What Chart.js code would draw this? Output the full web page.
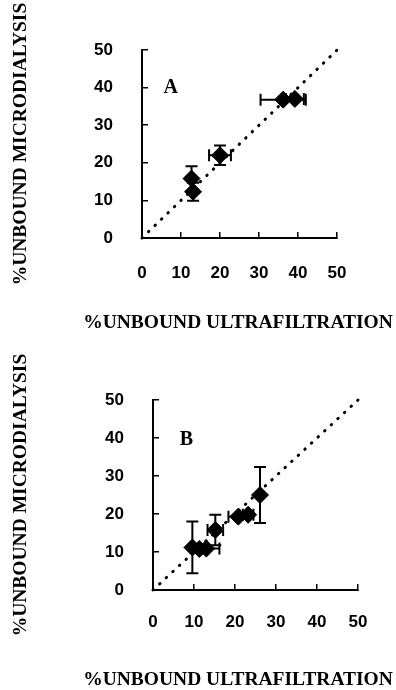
<!DOCTYPE html>
<html>
<head>
<meta charset="utf-8">
<script src="https://cdn.jsdelivr.net/npm/chart.js@4.4.1/dist/chart.umd.min.js"></script>
<style>
    html, body { margin: 0; padding: 0; background: #fff; }
    .panel { position: relative; width: 396px; height: 345px; }
    canvas { display: block; }
</style>
</head>
<body>
<div class="panel"><canvas id="chartA" width="396" height="345"></canvas></div>
<div class="panel"><canvas id="chartB" width="396" height="345"></canvas></div>
<script>
// Panel A: % unbound by ultrafiltration (x) vs microdialysis (y)
const ufA = [12.7, 13.1, 20.0, 36.2, 39.2];
const mdA = [15.8, 12.3, 22.0, 36.8, 37.0];
const ufErrA = [0, 0, 2.8, 5.8, 2.3];
const mdErrA = [3.3, 2.4, 2.6, 0, 0];

// Panel B
const ufB = [9.6, 11.3, 13.0, 15.2, 20.8, 23.2, 26.1];
const mdB = [11.2, 10.8, 10.9, 15.8, 19.3, 19.8, 25.0];
const ufErrB = [0, 0, 3.2, 1.9, 2.4, 1.3, 0];
const mdErrB = [6.8, 0, 0, 4.0, 0, 0, 7.4];

// Line of identity
const identityX = [0, 50];
const identityY = [0, 50];

const tickValues = [0, 10, 20, 30, 40, 50];
const xTitle = '%UNBOUND ULTRAFILTRATION';
const yTitle = '%UNBOUND MICRODIALYSIS';

const INK = '#000';
const TICK_FONT = { family: '"Liberation Sans", Arial, sans-serif', size: 17, weight: 'bold' };
const TITLE_FONT = { family: '"Liberation Serif", "Times New Roman", serif', size: 19.5, weight: 'bold' };

/**
 * Draws x/y error bars with caps under the markers, positioned via the chart scales.
 */
const errorBarPlugin = {
    id: 'errorBars',
    beforeDatasetsDraw(chart) {
        const ctx = chart.ctx;
        const xs = chart.scales.x;
        const ys = chart.scales.y;
        const cap = 6;
        ctx.save();
        ctx.strokeStyle = INK;
        ctx.lineWidth = 2;
        chart.data.datasets.forEach(ds => {
            if (!ds.errX) return;
            ds.data.forEach((p, i) => {
                const px = xs.getPixelForValue(p.x);
                const py = ys.getPixelForValue(p.y);
                const ex = ds.errX[i];
                const ey = ds.errY[i];
                ctx.beginPath();
                if (ey > 0) {
                    const t = ys.getPixelForValue(p.y + ey);
                    const b = ys.getPixelForValue(p.y - ey);
                    ctx.moveTo(px, t); ctx.lineTo(px, b);
                    ctx.moveTo(px - cap, t); ctx.lineTo(px + cap, t);
                    ctx.moveTo(px - cap, b); ctx.lineTo(px + cap, b);
                }
                if (ex > 0) {
                    const l = xs.getPixelForValue(p.x - ex);
                    const r = xs.getPixelForValue(p.x + ex);
                    ctx.moveTo(l, py); ctx.lineTo(r, py);
                    ctx.moveTo(l, py - cap); ctx.lineTo(l, py + cap);
                    ctx.moveTo(r, py - cap); ctx.lineTo(r, py + cap);
                }
                ctx.stroke();
            });
        });
        ctx.restore();
    }
};

function toPoints(xs, ys) {
    return xs.map((x, i) => ({ x: x, y: ys[i] }));
}

/**
 * Builds one scatter panel. layout gives the plot box inside the 396x345 canvas.
 */
function makePanel(canvasId, letter, xs, ys, errX, errY, layout) {
    const axisCommon = {
        type: 'linear',
        min: 0,
        max: 50,
        afterBuildTicks(scale) {
            scale.ticks = tickValues.map(v => ({ value: v }));
        },
        grid: {
            drawOnChartArea: false,
            drawTicks: true,
            tickLength: -6,
            color: INK,
            lineWidth: 1.5
        },
        border: { display: true, color: INK, width: 2 }
    };

    return new Chart(document.getElementById(canvasId), {
        type: 'scatter',
        data: {
            datasets: [
                {
                    label: 'identity',
                    data: toPoints(identityX, identityY),
                    showLine: true,
                    pointRadius: 0,
                    borderColor: INK,
                    borderWidth: 3,
                    borderDash: [0.5, 8.5],
                    borderCapStyle: 'round',
                    clip: false
                },
                {
                    label: letter,
                    data: toPoints(xs, ys),
                    errX: errX,
                    errY: errY,
                    pointStyle: 'rectRot',
                    pointRadius: 8.5,
                    pointHoverRadius: 8.5,
                    backgroundColor: INK,
                    borderColor: INK,
                    borderWidth: 1,
                    clip: false
                }
            ]
        },
        options: {
            responsive: false,
            animation: false,
            events: [],
            layout: { padding: { top: layout.top, right: layout.right, left: 0, bottom: 0 } },
            plugins: {
                legend: { display: false },
                tooltip: { enabled: false }
            },
            scales: {
                x: Object.assign({}, axisCommon, {
                    position: 'bottom',
                    afterFit(scale) { scale.height = layout.xAxisHeight; },
                    ticks: { color: INK, font: TICK_FONT, padding: layout.xTickPad, autoSkip: false, maxRotation: 0 },
                    title: { display: false }
                }),
                y: Object.assign({}, axisCommon, {
                    position: 'left',
                    afterFit(scale) { scale.width = layout.yAxisWidth; },
                    ticks: { color: INK, font: TICK_FONT, padding: layout.yTickPad, autoSkip: false },
                    title: {
                        display: true,
                        text: yTitle,
                        color: INK,
                        font: TITLE_FONT,
                        padding: { top: layout.yTitlePad, bottom: 0 }
                    }
                })
            }
        },
        plugins: [errorBarPlugin, {
            id: 'panelText',
            afterDraw(chart) {
                const ctx = chart.ctx;
                ctx.save();
                ctx.fillStyle = INK;
                ctx.textBaseline = 'middle';
                ctx.font = 'bold 20px "Liberation Serif", "Times New Roman", serif';
                ctx.fillText(letter, chart.scales.x.getPixelForValue(layout.letterX),
                    chart.scales.y.getPixelForValue(layout.letterY));
                // x axis title, drawn here so it is not squeezed to the plot width
                ctx.font = 'bold ' + TITLE_FONT.size + 'px ' + TITLE_FONT.family;
                ctx.textAlign = 'center';
                ctx.fillText(xTitle, layout.xTitleX, layout.xTitleY);
                ctx.restore();
            }
        }]
    });
}

makePanel('chartA', 'A', ufA, mdA, ufErrA, mdErrA, {
    top: 50, right: 59, xAxisHeight: 107, yAxisWidth: 142,
    xTickPad: 31, yTickPad: 35, yTitlePad: 9,
    xTitleX: 238, xTitleY: 323,
    letterX: 5.5, letterY: 40
});

makePanel('chartB', 'B', ufB, mdB, ufErrB, mdErrB, {
    top: 55, right: 38, xAxisHeight: 100, yAxisWidth: 153,
    xTickPad: 28, yTickPad: 35, yTitlePad: 9,
    xTitleX: 238, xTitleY: 335,
    letterX: 6.5, letterY: 39.5
});
</script>
</body>
</html>
